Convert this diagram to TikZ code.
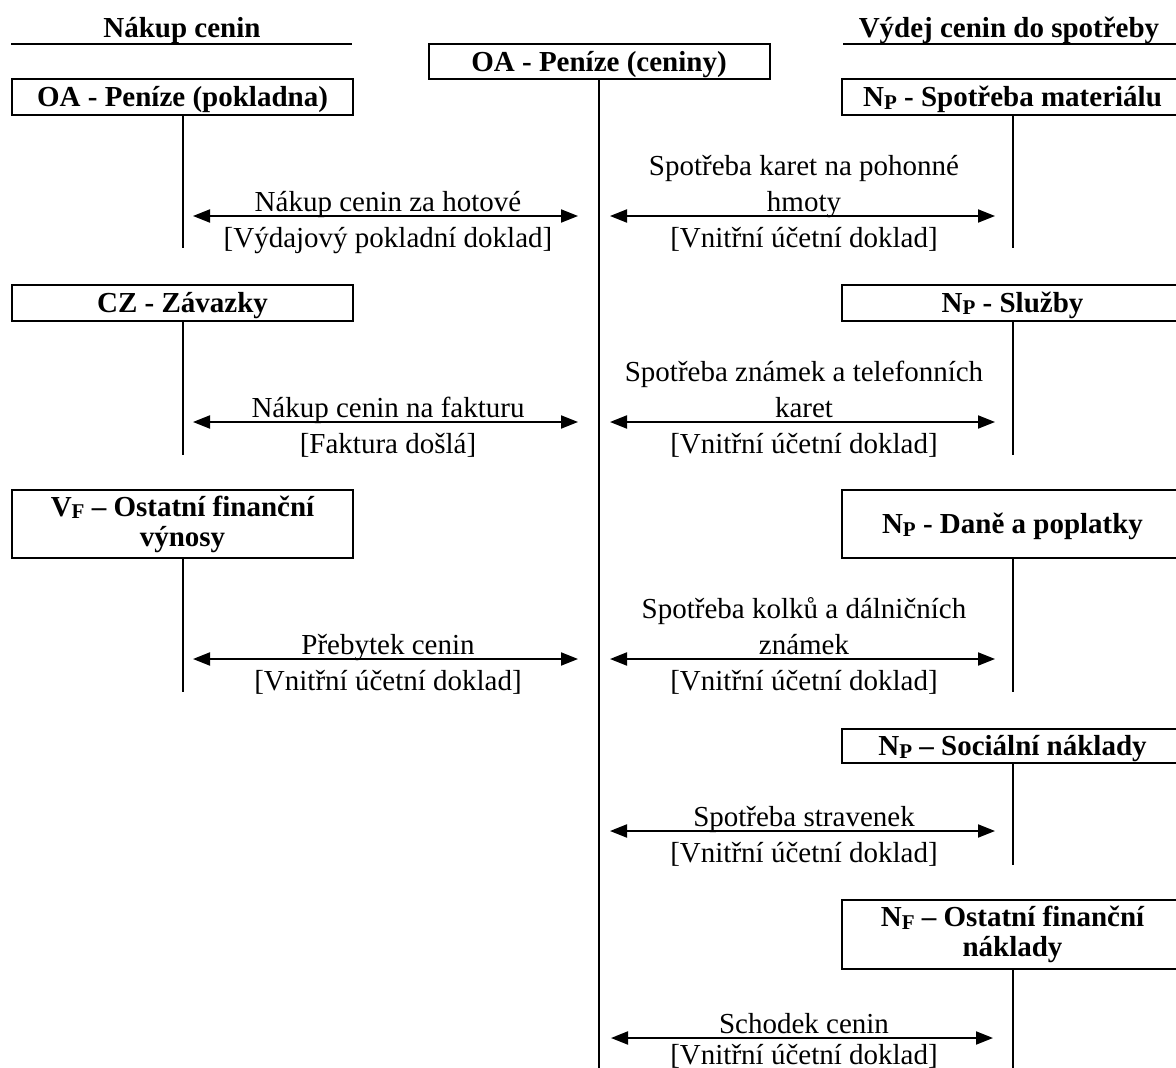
\documentclass[tikz,border=0pt]{standalone}
\usepackage{fontspec}
\setmainfont{Liberation Serif}
\usetikzlibrary{arrows.meta}
% lowered small index letter, as in N_P, V_F
\newcommand\idx[1]{\raisebox{-0.09em}{\fontsize{21}{21}\selectfont #1}}
\begin{document}
\begin{tikzpicture}[x=1pt,y=-1pt,
  every node/.style={inner sep=0pt, outer sep=0pt},
  lbl/.style={anchor=base, font=\fontsize{29}{34}\selectfont},
  hdr/.style={anchor=base, font=\fontsize{29}{34}\selectfont\bfseries},
  acct/.style={draw, line width=2pt, minimum width=341pt,
    font=\fontsize{29}{30}\selectfont\bfseries, align=center},
  one/.style={acct, minimum height=36pt, text height=19pt, text depth=0pt},
  two/.style={acct, minimum height=69pt},
  stem/.style={line width=2pt},
  flow/.style={line width=2pt,
    {Triangle[length=17pt,width=13pt]}-{Triangle[length=17pt,width=13pt]}},
]
\useasboundingbox (0,0) rectangle (1176,1068);

% column headings
\node[hdr] (hbuy) at (182,37) {Nákup cenin};
\node[hdr] (huse) at (1009,37) {Výdej cenin do spotřeby};
\draw[stem] (11,44) -- (352,44);
\draw[stem] (843,44) -- (1184,44);

% central account
\node[one, minimum height=35pt] (cen) at (599,61.5) {OA - Peníze (ceniny)};
\coordinate (cenend) at (599,1068);
\draw[stem] (cen.south) -- (cenend);

% ---- purchase side ----
\node[one] (pok) at (182.5,97) {OA - Peníze (pokladna)};
\coordinate (pokend) at (182.5,248);
\draw[stem] (pok.south) -- (pokend);
\coordinate (a1l) at (193,216); \coordinate (a1r) at (578,216);
\draw[flow] (a1l) -- (a1r);
\node[lbl] (t1a) at (388,211) {Nákup cenin za hotové};
\node[lbl] (t1b) at (388,247) {[Výdajový pokladní doklad]};

\node[one] (zav) at (182.5,302.5) {CZ - Závazky};
\coordinate (zavend) at (182.5,455);
\draw[stem] (zav.south) -- (zavend);
\coordinate (a2l) at (193,422); \coordinate (a2r) at (578,422);
\draw[flow] (a2l) -- (a2r);
\node[lbl] (t2a) at (388,417) {Nákup cenin na fakturu};
\node[lbl] (t2b) at (388,453) {[Faktura došlá]};

\node[two, minimum height=68pt] (vyn) at (182.5,524) {V\idx{F} – Ostatní finanční\\výnosy};
\coordinate (vynend) at (182.5,692);
\draw[stem] (vyn.south) -- (vynend);
\coordinate (a3l) at (193,659); \coordinate (a3r) at (578,659);
\draw[flow] (a3l) -- (a3r);
\node[lbl] (t3a) at (388,654) {Přebytek cenin};
\node[lbl] (t3b) at (388,690) {[Vnitřní účetní doklad]};

% ---- consumption side ----
\node[one] (mat) at (1012.5,97) {N\idx{P} - Spotřeba materiálu};
\coordinate (matend) at (1012.5,248);
\draw[stem] (mat.south) -- (matend);
\coordinate (b1l) at (610,216); \coordinate (b1r) at (995,216);
\draw[flow] (b1l) -- (b1r);
\node[lbl] (u1a) at (804,175.5) {Spotřeba karet na pohonné};
\node[lbl] (u1b) at (804,211) {hmoty};
\node[lbl] (u1c) at (804,247) {[Vnitřní účetní doklad]};

\node[one] (slu) at (1012.5,302.5) {N\idx{P} - Služby};
\coordinate (sluend) at (1012.5,455);
\draw[stem] (slu.south) -- (sluend);
\coordinate (b2l) at (610,422); \coordinate (b2r) at (995,422);
\draw[flow] (b2l) -- (b2r);
\node[lbl] (u2a) at (804,381.5) {Spotřeba známek a telefonních};
\node[lbl] (u2b) at (804,417) {karet};
\node[lbl] (u2c) at (804,453) {[Vnitřní účetní doklad]};

\node[one, minimum height=68pt] (dan) at (1012.5,524) {N\idx{P} - Daně a poplatky};
\coordinate (danend) at (1012.5,692);
\draw[stem] (dan.south) -- (danend);
\coordinate (b3l) at (610,659); \coordinate (b3r) at (995,659);
\draw[flow] (b3l) -- (b3r);
\node[lbl] (u3a) at (804,618.5) {Spotřeba kolků a dálničních};
\node[lbl] (u3b) at (804,654) {známek};
\node[lbl] (u3c) at (804,690) {[Vnitřní účetní doklad]};

\node[one, minimum height=34pt] (soc) at (1012.5,746) {N\idx{P} – Sociální náklady};
\coordinate (socend) at (1012.5,865);
\draw[stem] (soc.south) -- (socend);
\coordinate (b4l) at (610,831); \coordinate (b4r) at (995,831);
\draw[flow] (b4l) -- (b4r);
\node[lbl] (u4a) at (804,826) {Spotřeba stravenek};
\node[lbl] (u4b) at (804,862) {[Vnitřní účetní doklad]};

\node[two] (fin) at (1012.5,934.5) {N\idx{F} – Ostatní finanční\\náklady};
\coordinate (finend) at (1012.5,1068);
\draw[stem] (fin.south) -- (finend);
\coordinate (b5l) at (611,1038); \coordinate (b5r) at (993,1038);
\draw[flow] (b5l) -- (b5r);
\node[lbl] (u5a) at (804,1033) {Schodek cenin};
\node[lbl] (u5b) at (804,1064) {[Vnitřní účetní doklad]};
\end{tikzpicture}
\end{document}
